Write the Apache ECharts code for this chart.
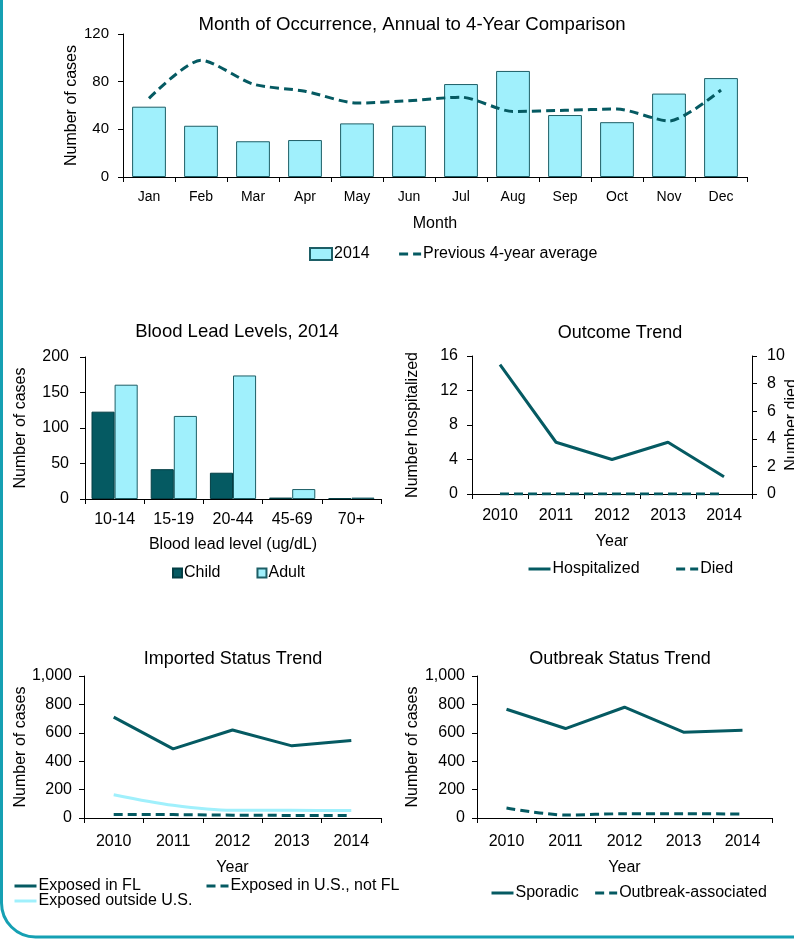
<!DOCTYPE html>
<html>
<head>
<meta charset="utf-8">
<title>Lead Poisoning Surveillance Charts</title>
<script src="https://cdn.jsdelivr.net/npm/echarts@6/dist/echarts.min.js"></script>
<style>
  html, body { margin: 0; padding: 0; background: #ffffff; }
  #chart { width: 794px; height: 940px; }
</style>
</head>
<body>
<div id="chart"></div>
<script>
// ---- Month of occurrence ----
const months = ['Jan', 'Feb', 'Mar', 'Apr', 'May', 'Jun', 'Jul', 'Aug', 'Sep', 'Oct', 'Nov', 'Dec'];
const cases2014 = [59, 43, 30, 31, 45, 43, 78, 89, 52, 46, 70, 83];
const prevAvg = [66, 98, 78, 72, 62, 64, 67, 55, 56, 57, 47, 73];

// ---- Blood lead levels, 2014 ----
const leadLevels = ['10-14', '15-19', '20-44', '45-69', '70+'];
const childCases = [123, 42, 37, 2, 1];
const adultCases = [161, 117, 174, 14, 2];

// ---- Trends by year ----
const years = ['2010', '2011', '2012', '2013', '2014'];
const hospitalized = [15, 6, 4, 6, 2];
const died = [0, 0, 0, 0, 0];
const exposedFL = [710, 487, 620, 508, 546];
const exposedUSnotFL = [25, 24, 20, 18, 18];
const exposedOutside = [164, 89, 54, 54, 52];
const sporadic = [766, 630, 780, 604, 618];
const outbreakAssoc = [70, 21, 30, 30, 28];

const FONT = '"Liberation Sans", Arial, Helvetica, sans-serif';
const DARK = '#055a62';
const LIGHT = '#a0f0fc';
const EDGE = '#1d5e66';
const BORDER = '#15a0b3';

const chart = echarts.init(document.getElementById('chart'), null, { renderer: 'canvas' });

function catAxis(grid, data, labelSize, labelMargin, name, nameGap) {
  return {
    type: 'category', gridIndex: grid, data: data,
    axisLine: { show: true, lineStyle: { color: '#000', width: 1 } },
    axisTick: { show: true, length: 5, lineStyle: { color: '#000' } },
    axisLabel: { color: '#000', fontSize: labelSize, fontFamily: FONT, margin: labelMargin },
    splitLine: { show: false },
    name: name, nameLocation: 'middle', nameGap: nameGap, nameMoveOverlap: false,
    nameTextStyle: { color: '#000', fontSize: 16, fontFamily: FONT }
  };
}

function valAxis(grid, min, max, interval, labelSize, labelMargin, name, nameGap, extra) {
  return Object.assign({
    type: 'value', gridIndex: grid, min: min, max: max, interval: interval,
    axisLine: { show: true, lineStyle: { color: '#000', width: 1 } },
    axisTick: { show: true, length: 5, lineStyle: { color: '#000' } },
    axisLabel: { color: '#000', fontSize: labelSize, fontFamily: FONT, margin: labelMargin },
    splitLine: { show: false },
    name: name, nameLocation: 'middle', nameGap: nameGap, nameRotate: 90, nameMoveOverlap: false,
    nameTextStyle: { color: '#000', fontSize: 16, fontFamily: FONT }
  }, extra || {});
}

const thousands = v => v.toLocaleString('en-US');

// line legend entries: stroke only, marker hidden
const lineItem = name => ({
  name: name,
  itemStyle: { color: 'rgba(0,0,0,0)', borderColor: 'rgba(0,0,0,0)', borderWidth: 0 }
});
const boxItem = name => ({ name: name, icon: 'rect' });

function legend(left, top, items, itemGap, w, h) {
  return {
    left: left, top: top, orient: 'horizontal', data: items,
    itemWidth: w || 22, itemHeight: h || 12, itemGap: itemGap || 10,
    padding: 0, selectedMode: false,
    lineStyle: { width: 3 },
    textStyle: { color: '#000', fontSize: 16, fontFamily: FONT, padding: [0, 0, 0, -3] }
  };
}

function titleAt(text, cx, top, size) {
  return {
    text: text, left: cx, top: top, textAlign: 'center', padding: 0,
    textStyle: { color: '#000', fontSize: size || 18, fontWeight: 'normal', fontFamily: FONT }
  };
}

function lineSeries(name, grid, yIdx, data, color, dashed, smooth) {
  return {
    name: name, type: 'line', xAxisIndex: grid, yAxisIndex: yIdx, data: data,
    smooth: smooth || false, symbol: 'circle', showSymbol: false,
    lineStyle: { color: color, width: 3, type: dashed ? [9, 5] : 'solid' },
    itemStyle: { color: color }
  };
}

// fixed plot rectangles; axis text may run to the page edge
const plotArea = (left, top, width, height) =>
  ({ left: left, top: top, width: width, height: height, outerBoundsMode: 'none', containLabel: false });

const option = {
  backgroundColor: '#ffffff',
  animation: false,
  textStyle: { fontFamily: FONT },
  title: [
    titleAt('Month of Occurrence, Annual to 4-Year Comparison', 412, 15, 18.6),
    titleAt('Blood Lead Levels, 2014', 237, 322, 18.5),
    titleAt('Outcome Trend', 620, 324),
    titleAt('Imported Status Trend', 233, 650),
    titleAt('Outbreak Status Trend', 620, 650)
  ],
  legend: [
    legend(309, 246, [boxItem('2014'), lineItem('Previous 4-year average')], 28, 22, 12),
    legend(172, 565, [boxItem('Child'), boxItem('Adult')], 36, 9, 9),
    legend(527, 561, [lineItem('Hospitalized'), lineItem('Died')], 35, 22, 12),
    legend(13, 878, [lineItem('Exposed in FL')], 10, 22, 12),
    legend(205, 878, [lineItem('Exposed in U.S., not FL')], 10, 22, 12),
    legend(13, 893, [lineItem('Exposed outside U.S.')], 10, 22, 12),
    legend(490, 885, [lineItem('Sporadic'), lineItem('Outbreak-associated')], 15, 22, 12)
  ],
  grid: [
    plotArea(123, 34, 624, 143),
    plotArea(85, 357, 296, 142),
    plotArea(472, 356, 280, 138),
    plotArea(84, 676, 297, 142),
    plotArea(477, 676, 295, 142)
  ],
  xAxis: [
    catAxis(0, months, 14, 13, 'Month', 39),
    catAxis(1, leadLevels, 16, 13, 'Blood lead level (ug/dL)', 38),
    catAxis(2, years, 16, 14, 'Year', 40),
    catAxis(3, years, 16, 16, 'Year', 42),
    catAxis(4, years, 16, 16, 'Year', 42)
  ],
  yAxis: [
    valAxis(0, 0, 120, 40, 15, 14, 'Number of cases', 43),
    valAxis(1, 0, 200, 50, 16, 16, 'Number of cases', 56),
    valAxis(2, 0, 16, 4, 16, 14, 'Number hospitalized', 51),
    valAxis(2, 0, 10, 2, 16, 15, 'Number died', 32, { position: 'right' }),
    valAxis(3, 0, 1000, 200, 16, 12, 'Number of cases', 55, { axisLabel: { color: '#000', fontSize: 16, fontFamily: FONT, margin: 12, formatter: thousands } }),
    valAxis(4, 0, 1000, 200, 16, 12, 'Number of cases', 56, { axisLabel: { color: '#000', fontSize: 16, fontFamily: FONT, margin: 12, formatter: thousands } })
  ],
  series: [
    {
      name: '2014', type: 'bar', xAxisIndex: 0, yAxisIndex: 0, data: cases2014,
      barWidth: '65%',
      itemStyle: { color: LIGHT, borderColor: EDGE, borderWidth: 1 }
    },
    lineSeries('Previous 4-year average', 0, 0, prevAvg, DARK, true, 0.25),
    {
      name: 'Child', type: 'bar', xAxisIndex: 1, yAxisIndex: 1, data: childCases,
      barGap: '0%', barCategoryGap: '22%',
      itemStyle: { color: DARK, borderColor: '#033e44', borderWidth: 1 }
    },
    {
      name: 'Adult', type: 'bar', xAxisIndex: 1, yAxisIndex: 1, data: adultCases,
      barGap: '0%', barCategoryGap: '22%',
      itemStyle: { color: LIGHT, borderColor: EDGE, borderWidth: 1 }
    },
    lineSeries('Hospitalized', 2, 2, hospitalized, DARK, false),
    lineSeries('Died', 2, 3, died, DARK, true),
    lineSeries('Exposed in FL', 3, 4, exposedFL, DARK, false),
    lineSeries('Exposed in U.S., not FL', 3, 4, exposedUSnotFL, DARK, true),
    lineSeries('Exposed outside U.S.', 3, 4, exposedOutside, LIGHT, false, 0.3),
    lineSeries('Sporadic', 4, 5, sporadic, DARK, false),
    lineSeries('Outbreak-associated', 4, 5, outbreakAssoc, DARK, true, 0.3)
  ],
  graphic: [
    {
      // page frame: left edge with rounded bottom-left corner
      type: 'rect', silent: true, z: -1,
      shape: { x: 1.5, y: -100, width: 1000, height: 1037, r: 34 },
      style: { fill: 'none', stroke: BORDER, lineWidth: 3 }
    }
  ]
};

chart.setOption(option);
</script>
</body>
</html>
